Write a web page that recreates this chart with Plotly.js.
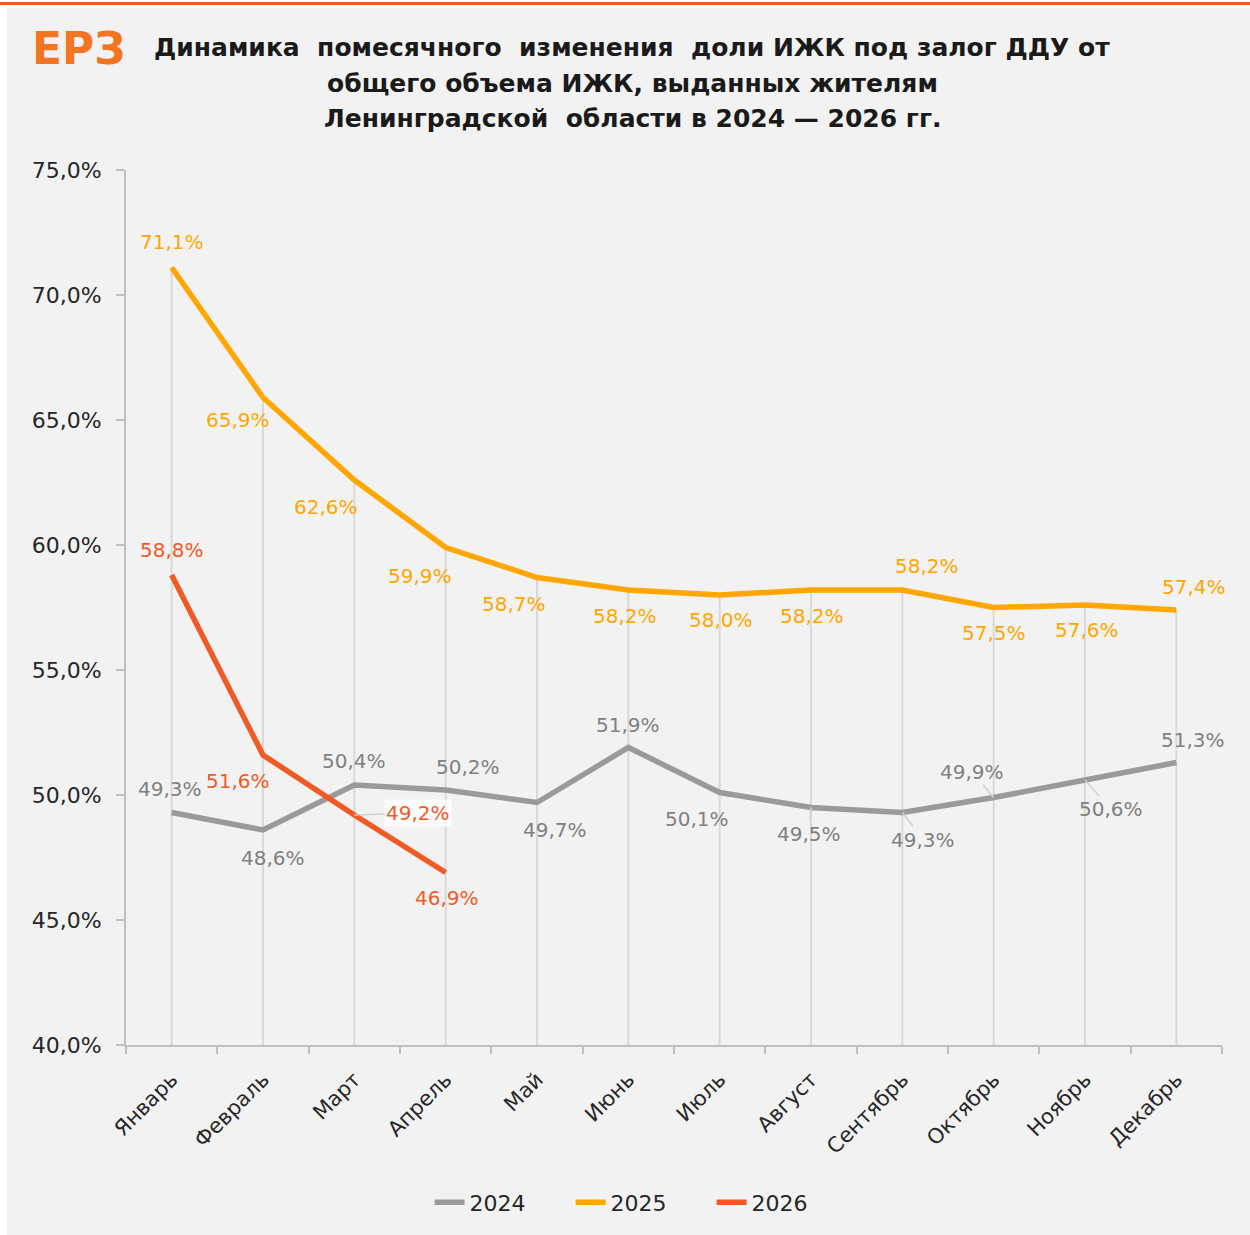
<!DOCTYPE html>
<html>
<head>
<meta charset="utf-8">
<script src="https://cdn.plot.ly/plotly-3.0.1.min.js"></script>
<style>
  html, body { margin:0; padding:0; background:#ffffff; width:1250px; height:1235px; overflow:hidden; }
  #topline { position:absolute; left:0; top:2px; width:1250px; height:3px; background:#f15a24; }
  #chart { position:absolute; left:7px; top:8px; width:1243px; height:1227px; }
</style>
</head>
<body>
<div id="topline"></div>
<div id="chart"></div>
<script>
const months = ["Январь","Февраль","Март","Апрель","Май","Июнь","Июль","Август","Сентябрь","Октябрь","Ноябрь","Декабрь"];
const y2024 = [49.3, 48.6, 50.4, 50.2, 49.7, 51.9, 50.1, 49.5, 49.3, 49.9, 50.6, 51.3];
const y2025 = [71.1, 65.9, 62.6, 59.9, 58.7, 58.2, 58.0, 58.2, 58.2, 57.5, 57.6, 57.4];
const y2026 = [58.8, 51.6, 49.2, 46.9];
const seriesNames = ["2024", "2025", "2026"];
const titleLines = [
  "Динамика  помесячного  изменения  доли ИЖК под залог ДДУ от",
  "общего объема ИЖК, выданных жителям",
  "Ленинградской  области в 2024 — 2026 гг."
];

const colors = { "2024": "#9a9a9a", "2025": "#ffa600", "2026": "#f15a24" };
const labelColors = { "2024": "#808080", "2025": "#ffa600", "2026": "#f15a24" };
const FONT = "DejaVu Sans, sans-serif";

// label placement (pixels): [dx, dy(up), leader]
const place = {
  "2024": [[-2,24,0],[10,-28,0],[0,24,0],[22,23,0],[18,-27,0],[0,23,0],[-23,-26,0],[-2,-26,1],[21,-27,1],[-22,26,1],[26,-29,1],[17,23,0]],
  "2025": [[0,26,0],[-25,-22,0],[-28,-27,0],[-26,-28,0],[-23,-26,0],[-3,-26,0],[1,-25,0],[1,-26,0],[25,24,0],[0,-25,0],[2,-25,0],[18,23,0]],
  "2026": [[0,25,0],[-25,-26,0],[64,2,2],[1,-25,0]]
};

const data = [y2024, y2025, y2026];
const traces = seriesNames.map((name, i) => ({
  type: "scatter",
  mode: "lines",
  name: name,
  x: months.slice(0, data[i].length),
  y: data[i],
  line: { color: colors[name], width: 5.5 },
  hoverinfo: "skip"
}));

function fmt(v) { return v.toFixed(1).replace(".", ",") + "%"; }

const annotations = [];
seriesNames.forEach((name, i) => {
  data[i].forEach((v, j) => {
    const p = place[name][j];
    const a = {
      x: months[j], y: v, xref: "x", yref: "y",
      text: fmt(v),
      font: { family: FONT, size: 20, color: labelColors[name] }
    };
    if (p[2] === 0) {
      a.showarrow = false;
      a.xshift = p[0];
      a.yshift = p[1];
    } else {
      a.showarrow = true;
      a.arrowhead = 0;
      a.arrowwidth = 1.5;
      a.arrowcolor = "#d0d0d0";
      a.ax = p[0];
      a.ay = -p[1];
      a.standoff = 0;
      if (p[2] === 2) { a.bgcolor = "rgba(255,255,255,0.75)"; a.borderpad = 1; }
    }
    annotations.push(a);
  });
});

// logo and title
annotations.push({
  xref: "paper", yref: "paper", x: -0.043, y: 1.139, xanchor: "center", yanchor: "middle",
  showarrow: false, text: "<b>ЕРЗ</b>",
  font: { family: "DejaVu Sans, sans-serif", size: 44, color: "#f47521" }
});
const titleY = [1.140, 1.0991, 1.0592];
titleLines.forEach((t, k) => {
  annotations.push({
    xref: "paper", yref: "paper", x: 0.4617, y: titleY[k], xanchor: "center", yanchor: "middle",
    showarrow: false, text: "<b>" + t + "</b>",
    font: { family: FONT, size: 25, color: "#1a1a1a" }
  });
});

// drop lines from the highest point at each month down to the axis
const shapes = months.map((m, j) => {
  const vals = data.map(d => d[j]).filter(v => v !== undefined);
  return {
    type: "line", xref: "x", yref: "y", x0: m, x1: m, y0: 40, y1: Math.max(...vals),
    line: { color: "#d9d9d9", width: 2 }, layer: "below"
  };
});

const layout = {
  width: 1243, height: 1227,
  paper_bgcolor: "#f2f2f2", plot_bgcolor: "#f2f2f2",
  margin: { l: 119, r: 28, t: 162, b: 187 },
  separators: ", ",
  font: { family: FONT, color: "#262626" },
  showlegend: true,
  legend: {
    orientation: "h", x: 0.47, xanchor: "center", y: -0.18, yanchor: "middle",
    font: { family: FONT, size: 22, color: "#262626" },
    entrywidth: 96, entrywidthmode: "pixels",
    bgcolor: "rgba(0,0,0,0)"
  },
  xaxis: {
    type: "category", categoryorder: "array", categoryarray: months,
    range: [-0.5, 11.5],
    showgrid: false, zeroline: false,
    showline: true, linecolor: "#bfbfbf", linewidth: 2,
    ticks: "outside", tickson: "boundaries", ticklen: 7, tickcolor: "#bfbfbf", tickwidth: 2,
    tickangle: -45, ticklabelstandoff: 12,
    tickfont: { family: FONT, size: 21, color: "#262626" }
  },
  yaxis: {
    range: [40, 75], dtick: 5, tick0: 40,
    tickformat: ".1f", ticksuffix: "%",
    showgrid: false, zeroline: false,
    showline: true, linecolor: "#bfbfbf", linewidth: 2,
    ticks: "outside", ticklen: 8, tickcolor: "#bfbfbf", tickwidth: 2,
    ticklabelstandoff: 10,
    tickfont: { family: FONT, size: 22, color: "#262626" }
  },
  annotations: annotations,
  shapes: shapes
};

Plotly.newPlot("chart", traces, layout, { displayModeBar: false, staticPlot: true });
</script>
</body>
</html>
